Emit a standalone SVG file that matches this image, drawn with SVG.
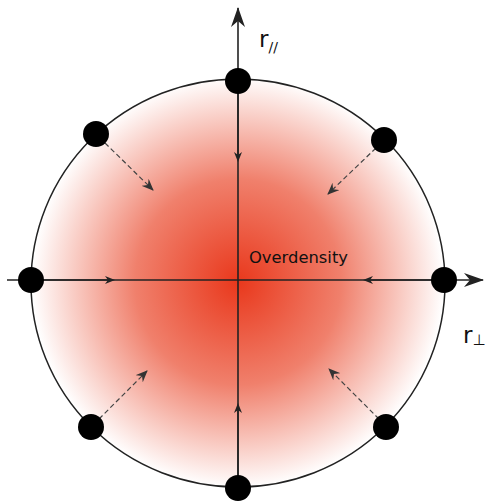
<svg xmlns="http://www.w3.org/2000/svg" width="485" height="501" viewBox="0 0 485 501">
<defs>
<radialGradient id="g" cx="238" cy="282" r="206" gradientUnits="userSpaceOnUse">
<stop offset="0" stop-color="#e9381c"/>
<stop offset="0.5" stop-color="#f0806c"/>
<stop offset="1" stop-color="#ffffff"/>
</radialGradient>
<marker id="mid" viewBox="0 0 10 10" refX="5" refY="5" markerWidth="10" markerHeight="10" markerUnits="userSpaceOnUse" orient="auto">
<path d="M0,1 L10,5 L0,9 L3,5 Z" fill="#222"/>
</marker>
<marker id="tip" viewBox="0 0 20 14" refX="19" refY="7" markerWidth="20" markerHeight="14" markerUnits="userSpaceOnUse" orient="auto">
<path d="M0,0 L20,7 L0,14 L6,7 Z" fill="#222"/>
</marker>
<marker id="dh" viewBox="0 0 12 10" refX="11" refY="5" markerWidth="12" markerHeight="10" markerUnits="userSpaceOnUse" orient="auto">
<path d="M0,0 L12,5 L0,10 L4,5 Z" fill="#333"/>
</marker>
<style>
.axis{stroke:#222;stroke-width:1.6;fill:none}
.dash{stroke:#444;stroke-width:1.2;stroke-dasharray:5,3;fill:none}
.dot{fill:#000}
.lbl{font-family:"DejaVu Sans","Liberation Sans",sans-serif;fill:#111}
</style>
</defs>
<g id="overdensity">
<ellipse cx="238" cy="283" rx="207" ry="204" fill="url(#g)" stroke="#222" stroke-width="1.5"/>
<text class="lbl" x="249" y="263" font-size="15" textLength="99" lengthAdjust="spacingAndGlyphs">Overdensity</text>
</g>
<g id="connectors">
<line class="axis" x1="238" y1="488" x2="238" y2="8" marker-end="url(#tip)"/>
<line class="axis" x1="7" y1="280" x2="483" y2="280" marker-end="url(#tip)"/>
<line class="axis" x1="238" y1="81" x2="238" y2="157" marker-end="url(#mid)"/>
<line class="axis" x1="238" y1="488" x2="238" y2="408" marker-end="url(#mid)"/>
<line class="axis" x1="31" y1="280" x2="110" y2="280" marker-end="url(#mid)"/>
<line class="axis" x1="444" y1="280" x2="368" y2="280" marker-end="url(#mid)"/>
<line class="dash" x1="105" y1="143" x2="153" y2="190" marker-end="url(#dh)"/>
<line class="dash" x1="376" y1="148" x2="328" y2="194" marker-end="url(#dh)"/>
<line class="dash" x1="99" y1="419" x2="147" y2="371" marker-end="url(#dh)"/>
<line class="dash" x1="379" y1="419" x2="329" y2="369" marker-end="url(#dh)"/>
</g>
<g id="dot-top"><circle class="dot" cx="238" cy="81" r="13"/></g>
<g id="dot-bottom"><circle class="dot" cx="238" cy="488" r="13"/></g>
<g id="dot-left"><circle class="dot" cx="31" cy="280" r="13"/></g>
<g id="dot-right"><circle class="dot" cx="444" cy="280" r="13"/></g>
<g id="dot-ul"><circle class="dot" cx="96" cy="134" r="13"/></g>
<g id="dot-ur"><circle class="dot" cx="384" cy="140" r="13"/></g>
<g id="dot-ll"><circle class="dot" cx="91" cy="427" r="13"/></g>
<g id="dot-lr"><circle class="dot" cx="386" cy="427" r="13"/></g>
<g id="label-par">
<text class="lbl" x="259" y="47" font-size="23">r<tspan font-size="14" dy="5">//</tspan></text>
</g>
<g id="label-perp">
<text class="lbl" x="463" y="343" font-size="23">r<tspan font-size="15" dy="2" fill="#111">⊥</tspan></text>
</g>
</svg>
